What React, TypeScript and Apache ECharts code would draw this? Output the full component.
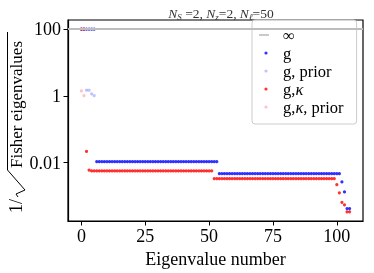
import React, { useEffect, useRef } from 'react';
import * as echarts from 'echarts';

const SERIF = '"Liberation Serif", "DejaVu Serif", serif';

// ---- data ----
const xTicks = [0, 25, 50, 75, 100];
const yTicks = [0.01, 1, 100];
const yTickLabels = ['0.01', '1', '100'];
const infLevel = 100;

// eigenvalue index runs 0..105
const gValues = [
  100, 100, 100, 100, 100, 100,
  0.0107, 0.0107, 0.0107, 0.0107, 0.0107, 0.0107, 0.0107, 0.0107, 0.0107, 0.0107, 0.0107, 0.0107,
  0.0107, 0.0107, 0.0107, 0.0107, 0.0107, 0.0107, 0.0107, 0.0107, 0.0107, 0.0107, 0.0107, 0.0107,
  0.0107, 0.0107, 0.0107, 0.0107, 0.0107, 0.0107, 0.0107, 0.0107, 0.0107, 0.0107, 0.0107, 0.0107,
  0.0107, 0.0107, 0.0107, 0.0107, 0.0107, 0.0107, 0.0107, 0.0107, 0.0107, 0.0107, 0.0107, 0.0107,
  0.0047, 0.0047, 0.0047, 0.0047, 0.0047, 0.0047, 0.0047, 0.0047, 0.0047, 0.0047, 0.0047, 0.0047,
  0.0047, 0.0047, 0.0047, 0.0047, 0.0047, 0.0047, 0.0047, 0.0047, 0.0047, 0.0047, 0.0047, 0.0047,
  0.0047, 0.0047, 0.0047, 0.0047, 0.0047, 0.0047, 0.0047, 0.0047, 0.0047, 0.0047, 0.0047, 0.0047,
  0.0047, 0.0047, 0.0047, 0.0047, 0.0047, 0.0047, 0.0047, 0.0047, 0.0047, 0.0047, 0.0047, 0.0047,
  0.00265, 0.00133, 0.000424, 0.000424,
];
const gPriorIdx = [2, 3, 4, 5];
const gPriorValues = [1.48, 1.48, 1.15, 1.02];

const gkValues = [
  100, 100,
  0.0217, 0.006,
  0.00565, 0.00565, 0.00565, 0.00565, 0.00565, 0.00565, 0.00565, 0.00565, 0.00565, 0.00565, 0.00565, 0.00565,
  0.00565, 0.00565, 0.00565, 0.00565, 0.00565, 0.00565, 0.00565, 0.00565, 0.00565, 0.00565, 0.00565, 0.00565,
  0.00565, 0.00565, 0.00565, 0.00565, 0.00565, 0.00565, 0.00565, 0.00565, 0.00565, 0.00565, 0.00565, 0.00565,
  0.00565, 0.00565, 0.00565, 0.00565, 0.00565, 0.00565, 0.00565, 0.00565, 0.00565, 0.00565, 0.00565, 0.00565,
  0.00333, 0.00333, 0.00333, 0.00333, 0.00333, 0.00333, 0.00333, 0.00333, 0.00333, 0.00333, 0.00333, 0.00333,
  0.00333, 0.00333, 0.00333, 0.00333, 0.00333, 0.00333, 0.00333, 0.00333, 0.00333, 0.00333, 0.00333, 0.00333,
  0.00333, 0.00333, 0.00333, 0.00333, 0.00333, 0.00333, 0.00333, 0.00333, 0.00333, 0.00333, 0.00333, 0.00333,
  0.00333, 0.00333, 0.00333, 0.00333, 0.00333, 0.00333, 0.00333, 0.00333, 0.00333, 0.00333, 0.00333, 0.00333,
  0.0022, 0.00125, 0.000653, 0.000546, 0.000337, 0.000337,
];
const gkPriorIdx = [0, 1];
const gkPriorValues = [1.41, 1.02];

const seriesNames = ['∞', 'g', 'g, prior', 'g,κ', 'g,κ, prior'];

const DOT_ICON = 'path://M0,0M19,10M7,3.4A1.6,1.6,0,1,1,7,6.6A1.6,1.6,0,1,1,7,3.4Z';
const DASH_ICON = 'path://M0,0M19,10M0,4.2L10,4.2L10,5.8L0,5.8Z';

export default function App() {
  const ref = useRef<HTMLDivElement>(null);
  useEffect(() => {
    if (!ref.current) return;
    const chart = echarts.init(ref.current, undefined, { renderer: 'svg' });
    const toPairs = (vals: number[]) => vals.map((v, i) => [i, v]);
    const toPairsIdx = (idx: number[], vals: number[]) => idx.map((x, i) => [x, vals[i]]);
    const scatterBase = {
      type: 'scatter' as const,
      symbol: 'circle',
      symbolSize: 3.2,
      silent: true,
    };
    chart.setOption({
      animation: false,
      title: {
        text: '{i|N}{s|S} =2, {i|N}{s|z}=2, {i|N}{s|ℓ}=50',
        left: 216,
        top: 1,
        textAlign: 'center',
        textStyle: {
          fontFamily: SERIF,
          fontSize: 13.5,
          fontWeight: 'normal',
          color: '#333',
          rich: {
            i: { fontFamily: SERIF, fontSize: 13.5, fontStyle: 'italic', color: '#333' },
            s: { fontFamily: SERIF, fontSize: 9, fontStyle: 'italic', color: '#333', padding: [6, 0, 0, 0] },
          },
        },
      },
      grid: {
        left: 68,
        right: 11,
        top: 20,
        bottom: 52,
        show: true,
        borderColor: '#000',
        borderWidth: 1.2,
        backgroundColor: 'transparent',
      },
      legend: {
        data: [
          { name: seriesNames[0], icon: DASH_ICON },
          { name: seriesNames[1], icon: DOT_ICON },
          { name: seriesNames[2], icon: DOT_ICON },
          { name: seriesNames[3], icon: DOT_ICON },
          { name: seriesNames[4], icon: DOT_ICON },
        ],
        orient: 'vertical',
        left: 252,
        top: 20,
        itemWidth: 19,
        itemHeight: 10,
        itemGap: 0,
        padding: [6, 13, 8, 7],
        selectedMode: false,
        backgroundColor: 'rgba(255,255,255,0.8)',
        borderColor: '#cccccc',
        borderWidth: 1,
        borderRadius: 3,
        formatter: (name: string) => name.replace('κ', '{k|κ}'),
        textStyle: {
          fontFamily: SERIF,
          fontSize: 16.5,
          color: '#000',
          lineHeight: 18,
          rich: {
            k: { fontFamily: SERIF, fontSize: 16.5, fontStyle: 'italic', color: '#000', lineHeight: 18 },
          },
        },
      },
      xAxis: {
        type: 'value',
        min: -5.25,
        max: 110.25,
        name: 'Eigenvalue number',
        nameLocation: 'middle',
        nameGap: 25,
        nameTextStyle: { fontFamily: SERIF, fontSize: 18, color: '#000' },
        axisLine: { show: true, onZero: false, lineStyle: { color: '#000', width: 1.2 } },
        axisTick: { show: true, length: 4.5, lineStyle: { color: '#000', width: 1 }, customValues: xTicks },
        axisLabel: { fontFamily: SERIF, fontSize: 18, color: '#000', margin: 6, customValues: xTicks },
        splitLine: { show: false },
      },
      yAxis: {
        type: 'log',
        logBase: 10,
        min: 1.795e-4,
        max: 188,
        axisLine: { show: true, onZero: false, lineStyle: { color: '#000', width: 1.2 } },
        axisTick: { show: true, length: 4.5, lineStyle: { color: '#000', width: 1 }, customValues: yTicks },
        axisLabel: {
          fontFamily: SERIF,
          fontSize: 18,
          color: '#000',
          margin: 7,
          customValues: yTicks,
          formatter: (v: number) => {
            const k = yTicks.findIndex((t) => Math.abs(Math.log10(t) - Math.log10(v)) < 1e-6);
            return k >= 0 ? yTickLabels[k] : '';
          },
        },
        splitLine: { show: false },
        minorTick: { show: false },
      },
      graphic: [
        {
          type: 'group',
          x: 16,
          y: 123,
          rotation: Math.PI / 2,
          children: [
            {
              type: 'text',
              x: -90,
              y: 0,
              style: { text: '1/', fontFamily: SERIF, fontSize: 18, fill: '#000', align: 'left', verticalAlign: 'middle' },
            },
            {
              type: 'polyline',
              shape: { points: [[-74, 2], [-71, 0], [-67, 9], [-47, -8.5], [91, -8.5]] },
              style: { stroke: '#000', lineWidth: 1, fill: null },
            },
            {
              type: 'text',
              x: -45,
              y: 0,
              style: { text: 'Fisher eigenvalues', fontFamily: SERIF, fontSize: 17, fill: '#000', align: 'left', verticalAlign: 'middle' },
            },
          ],
        },
      ],
      series: [
        {
          name: seriesNames[0],
          type: 'line',
          data: [],
          color: '#bdbdbd',
          symbol: 'none',
          silent: true,
          markLine: {
            silent: true,
            symbol: ['none', 'none'],
            label: { show: false },
            lineStyle: { color: '#bdbdbd', width: 2, type: 'solid' },
            emphasis: { disabled: true },
            data: [{ yAxis: infLevel }],
          },
        },
        { ...scatterBase, name: seriesNames[1], color: '#0000ff', data: toPairs(gValues) },
        { ...scatterBase, name: seriesNames[2], color: 'rgba(0,0,255,0.3)', data: toPairsIdx(gPriorIdx, gPriorValues) },
        { ...scatterBase, name: seriesNames[3], color: '#ff0000', data: toPairs(gkValues) },
        { ...scatterBase, name: seriesNames[4], color: 'rgba(255,0,0,0.3)', data: toPairsIdx(gkPriorIdx, gkPriorValues) },
      ],
    });
    return () => chart.dispose();
  }, []);
  return <div ref={ref} style={{ position: 'fixed', left: 0, top: 0, width: 374, height: 273 }} />;
}
